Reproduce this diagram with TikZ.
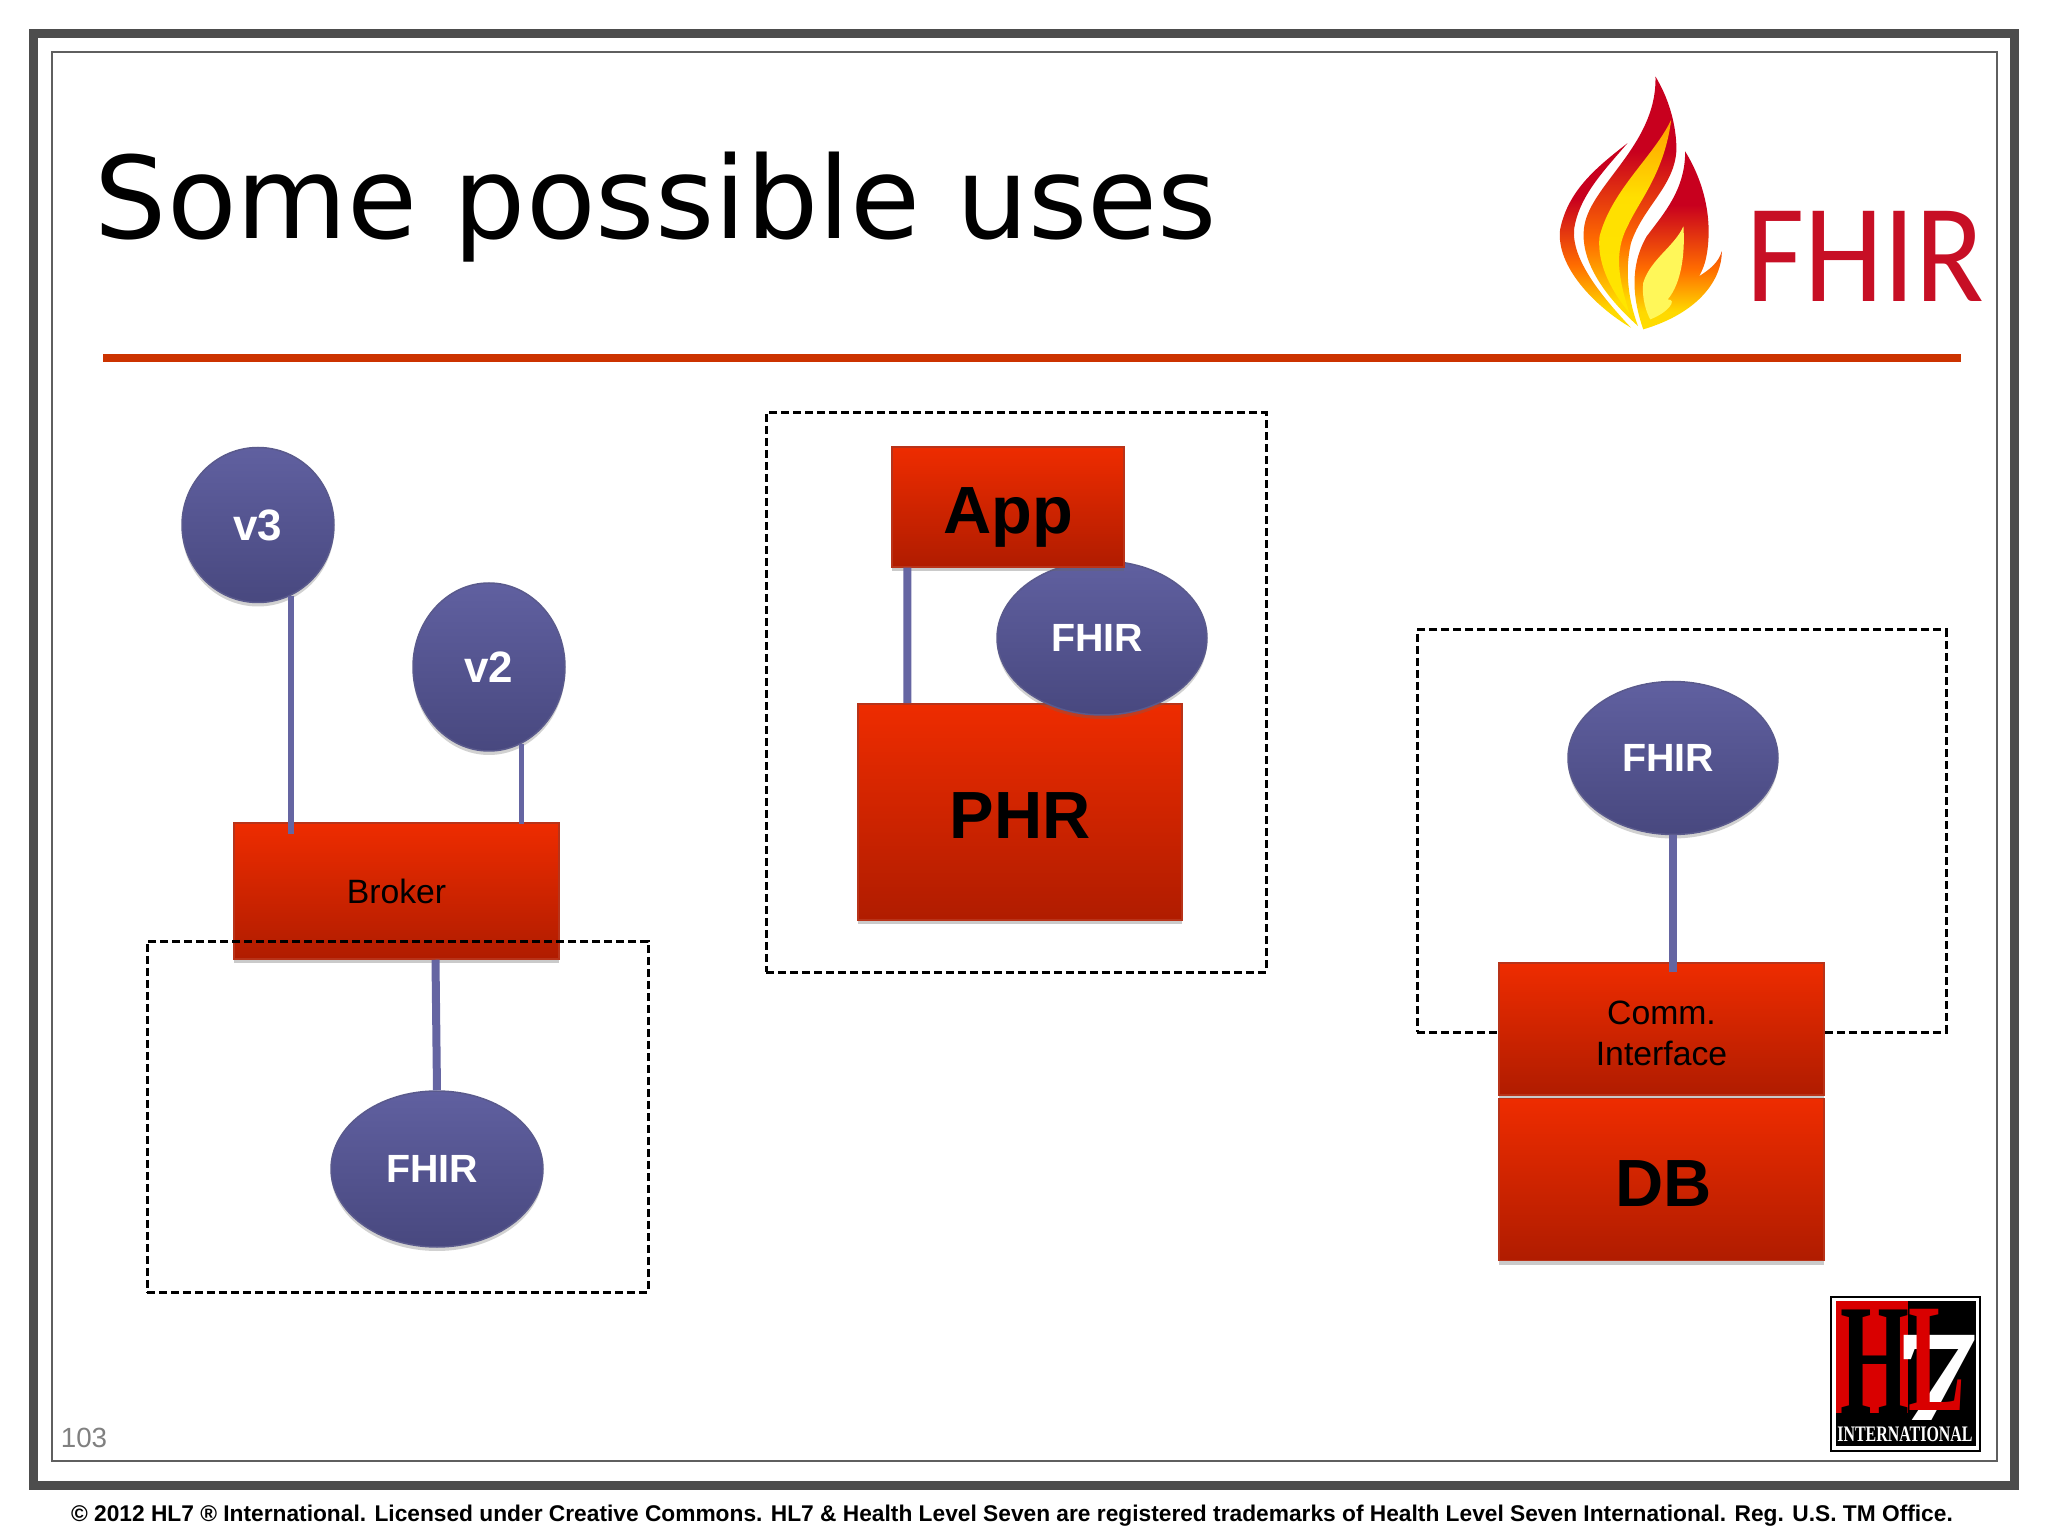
\documentclass[tikz,border=0pt]{standalone}
\usepackage{fontspec}
\setmainfont{Liberation Sans}
\newfontfamily\titlefont{DejaVu Sans}
\newfontfamily\logofont{Carlito}
\newfontfamily\hlfont{Liberation Serif}
\usepackage{xcolor}
\usetikzlibrary{shapes.geometric,positioning,shadows}
\definecolor{boxtop}{HTML}{EE2C00}
\definecolor{boxmid}{HTML}{E42600}
\definecolor{boxbottom}{HTML}{B01C00}
\definecolor{balltop}{HTML}{6060A0}
\definecolor{ballbottom}{HTML}{48487F}
\definecolor{linkblue}{HTML}{6565A2}
\definecolor{rulered}{HTML}{CC3300}
\definecolor{framegray}{HTML}{4D4D4D}
\definecolor{fhirred}{HTML}{C70F25}
\definecolor{flamered}{HTML}{C8001E}
\pgfdeclareverticalshading{flameshade}{100bp}{color(0bp)=(yellow!90!orange); color(30bp)=(yellow!70!orange); color(42bp)=(orange!85!red); color(60bp)=(flamered); color(100bp)=(flamered)}
\pgfdeclareverticalshading{stripeshade}{100bp}{color(0bp)=(yellow!85!orange); color(55bp)=(yellow!75!orange); color(85bp)=(orange); color(100bp)=(orange)}

\begin{document}
\begin{tikzpicture}[y=-1cm, font=\fontsize{9.6}{11.5}\selectfont,
  redbox/.style={rectangle, inner sep=0pt, align=center, top color=boxtop, middle color=boxmid, bottom color=boxbottom, draw=boxbottom!90!white, line width=0.015cm, drop shadow={shadow xshift=0cm, shadow yshift=-0.04cm, opacity=.35, fill=black!60}},
  bigbox/.style={redbox, text height=0.54cm, text depth=0pt, font=\fontsize{19}{22}\selectfont\bfseries},
  ball/.style={ellipse, inner sep=0pt, text=white, top color=balltop, bottom color=ballbottom, draw=ballbottom!90!white, line width=0.015cm, drop shadow={shadow xshift=0cm, shadow yshift=-0.04cm, opacity=.3, fill=black!60}, font=\fontsize{11.2}{13}\selectfont\bfseries},
  group/.style={rectangle, draw=black, dash pattern=on 0.08cm off 0.04cm, line width=0.03cm},
  link/.style={draw=linkblue, line width=0.055cm},
  widelink/.style={link, line width=0.08cm},
  strand/.style={shading=flameshade, draw=none}]
\useasboundingbox (0,0) rectangle (20.48,15.36);

% slide frame
\draw[framegray, line width=0.09cm] (0.335,0.335) rectangle (20.14,14.85);
\draw[framegray!90, line width=0.025cm] (0.52,0.52) rectangle (19.97,14.61);

% title
\node[anchor=base west, inner sep=0pt, font=\fontsize{32.4}{36}\selectfont\titlefont] (title) at (0.94,2.39) {Some possible uses};
\coordinate (ruleleft) at (1.03,3.58);
\coordinate (ruleright) at (19.61,3.58);
\draw[rulered, line width=0.08cm] (ruleleft) -- (ruleright);

% fhir logo
\begin{scope}[shift={(15,0.4)}, x=0.0035cm, y=-0.00333cm]
\shade[strand] (365,310) .. controls (280,380) and (195,450) .. (172,570) .. controls (160,680) and (270,800) .. (375,865) .. controls (290,770) and (205,660) .. (212,570) .. controls (225,470) and (300,390) .. (365,310) -- cycle;
\shade[strand] (445,110) .. controls (480,170) and (505,250) .. (505,330) .. controls (500,440) and (410,500) .. (375,610) .. controls (355,700) and (370,790) .. (395,860) .. controls (320,790) and (230,680) .. (240,570) .. controls (250,440) and (450,320) .. (445,110) -- cycle;
\shade[shading=stripeshade] (490,240) .. controls (440,350) and (320,450) .. (285,590) .. controls (275,680) and (330,770) .. (370,820) .. controls (340,720) and (325,640) .. (365,560) .. controls (400,480) and (470,400) .. (490,240) -- cycle;
\shade[strand] (530,335) .. controls (580,420) and (605,520) .. (595,620) .. controls (590,670) and (580,690) .. (570,710) .. controls (600,690) and (625,670) .. (635,635) .. controls (635,720) and (570,820) .. (410,870) .. controls (380,780) and (370,680) .. (420,590) .. controls (470,520) and (530,450) .. (530,335) -- cycle;
\fill[yellow!65!white] (525,560) .. controls (500,620) and (430,660) .. (410,730) .. controls (405,780) and (420,820) .. (430,840) .. controls (480,820) and (510,780) .. (480,780) .. controls (520,730) and (530,640) .. (525,560) -- cycle;
\end{scope}
\node[anchor=base west, inner sep=0pt, fhirred, xscale=.9, transform shape, font=\fontsize{40}{44}\selectfont\logofont] (fhirlogo) at (17.46,3.02) {FHIR};

% left group
\node[redbox, minimum width=3.25cm, minimum height=1.36cm] (broker) at (3.965,8.91) {Broker};
\node[group, minimum width=5.01cm, minimum height=3.51cm] (groupleft) at (3.975,11.165) {};
\node[ball, minimum width=1.52cm, minimum height=1.55cm, font=\fontsize{12.5}{14}\selectfont\bfseries] (vthree) at (2.58,5.25) {v3};
\node[ball, minimum width=1.52cm, minimum height=1.68cm, font=\fontsize{12.5}{14}\selectfont\bfseries] (vtwo) at (4.89,6.67) {v2};
\node[ball, minimum width=2.12cm, minimum height=1.56cm] (fhirleft) at (4.37,11.69) {FHIR\kern0.1cm};
\draw[link] (vthree.-65) -- ([yshift=-0.12cm]vthree.-65 |- broker.north);
\draw[link] (vtwo.-67) -- ([yshift=-0.02cm]vtwo.-67 |- broker.north);
\draw[widelink] ([xshift=0.39cm]broker.south) -- (fhirleft.north);

% middle group
\node[group, minimum width=5.0cm, minimum height=5.59cm] (groupmid) at (10.16,6.925) {};
\node[bigbox, minimum width=3.24cm, minimum height=2.16cm] (phr) at (10.2,8.12) {PHR};
\node[ball, minimum width=2.10cm, minimum height=1.54cm] (fhirmid) at (11.02,6.38) {FHIR\kern0.1cm};
\node[bigbox, minimum width=2.32cm, minimum height=1.2cm] (app) at (10.08,5.07) {App};
\draw[widelink] ([xshift=0.16cm]app.south west) -- ([xshift=0.5cm]phr.north west);

% right group
\node[group, minimum width=5.29cm, minimum height=4.02cm] (groupright) at (16.815,8.31) {};
\node[redbox, minimum width=3.25cm, minimum height=1.32cm] (comm) at (16.615,10.29) {\rule{0pt}{9.3pt}Comm.\\Interface};
\node[bigbox, minimum width=3.25cm, minimum height=1.62cm, below=0.02cm of comm] (db) {\kern0.04cm DB};
\node[ball, minimum width=2.10cm, minimum height=1.53cm] (fhirright) at (16.73,7.58) {FHIR\kern0.1cm};
\draw[widelink] (fhirright.south) -- ([yshift=-0.1cm]fhirright.south |- comm.north);

% hl7 logo
\node[rectangle, draw=black, fill=white, line width=0.012cm, minimum width=1.49cm, minimum height=1.54cm] (hlframe) at (19.055,13.74) {};
\node[rectangle, fill=black, minimum width=1.40cm, minimum height=1.45cm] (hlblack) at (19.06,13.735) {};
\node[rectangle, fill=red!85!black, anchor=north west, minimum width=0.72cm, minimum height=1.12cm] (hlred) at (hlblack.north west) {};
\node[text=white, inner sep=0pt, font=\fontsize{37}{37}\selectfont\hlfont\bfseries, xscale=1.3, transform shape, anchor=base] (hlseven) at (19.37,14.2) {7};
\node[text=black, inner sep=0pt, font=\fontsize{45}{45}\selectfont\hlfont\bfseries, xscale=.56, transform shape, anchor=base] (hlh) at (18.75,14.13) {H};
\node[text=red!85!black, inner sep=0pt, font=\fontsize{44}{44}\selectfont\hlfont\bfseries, xscale=.55, transform shape, anchor=base] (hll) at (19.365,14.1) {L};
\node[text=white, inner sep=0pt, font=\fontsize{6.3}{7}\selectfont\hlfont\bfseries, xscale=.72, transform shape] (hlname) at (19.05,14.34) {INTERNATIONAL};

% footer
\node[text=black!50, inner sep=0pt, font=\fontsize{7.9}{9}\selectfont] (pagenum) at (0.84,14.38) {103};
\node[inner sep=0pt, font=\fontsize{6.47}{8}\selectfont\bfseries] (notice) at (10.12,15.155) {© 2012 HL7 ® International. Licensed under Creative Commons. HL7 \& Health Level Seven are registered trademarks of Health Level Seven International. Reg. U.S. TM Office.};
\end{tikzpicture}
\end{document}
